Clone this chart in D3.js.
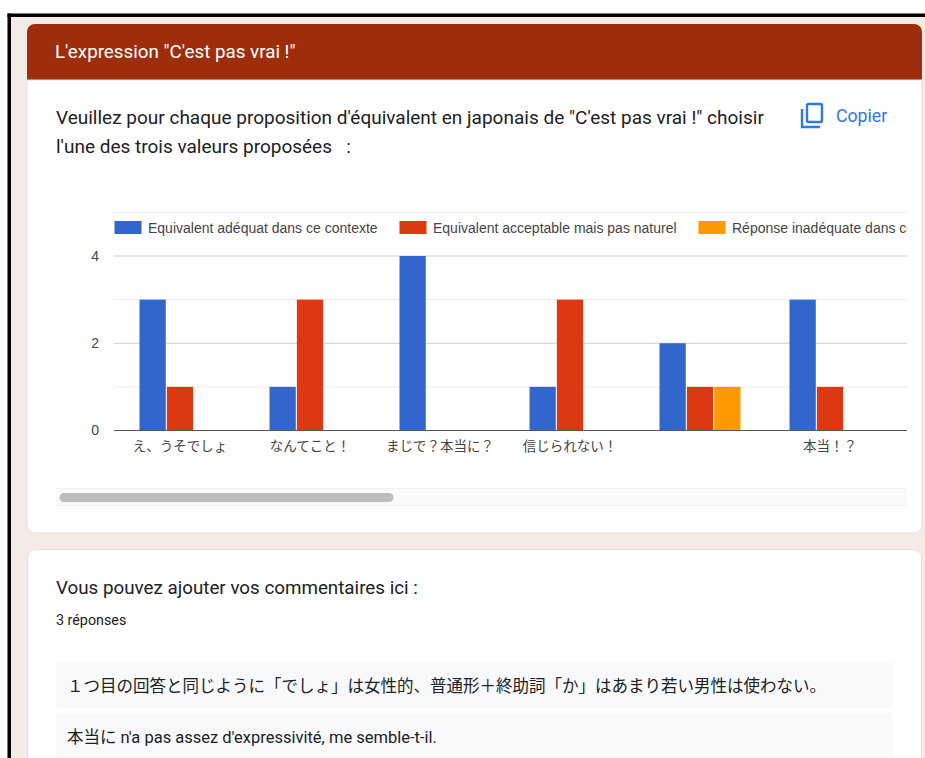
<!DOCTYPE html>
<html>
<head>
<meta charset="utf-8">
<script src="https://cdn.jsdelivr.net/npm/d3@7"></script>
<style>
  html, body { margin: 0; padding: 0; background: #fff; }
  svg { display: block; }
  text { font-family: Roboto, "Noto Sans CJK JP", sans-serif; fill: #202124; white-space: pre; }
  .chart text { font-family: "Liberation Sans", "Noto Sans CJK JP", sans-serif; fill: #444; }
  .axis path { display: none; }
  .axis line { stroke: none; }
</style>
</head>
<body>
<svg id="page" width="925" height="758"></svg>
<script>
var categories = ["え、うそでしょ", "なんてこと！", "まじで？本当に？", "信じられない！", "", "本当！？"];
var seriesNames = ["Equivalent adéquat dans ce contexte", "Equivalent acceptable mais pas naturel", "Réponse inadéquate dans ce contexte"];
var adequat = [3, 1, 4, 1, 2, 3];
var acceptable = [1, 3, 0, 3, 1, 1];
var inadequate = [0, 0, 0, 0, 1, 0];
var seriesColors = ["#3366cc", "#dc3912", "#ff9900"];
var yLabels = [0, 2, 4];
var yGrid = [1, 2, 3, 4];
var questionLines = ["Veuillez pour chaque proposition d'équivalent en japonais de \"C'est pas vrai !\" choisir", "l'une des trois valeurs proposées   :"];
var comments = ["１つ目の回答と同じように「でしょ」は女性的、普通形＋終助詞「か」はあまり若い男性は使わない。", "本当に n'a pas assez d'expressivité, me semble-t-il."];

var svg = d3.select("#page");

// page frame and cards
svg.append("rect").attr("x", 7.5).attr("y", 13.5).attr("width", 917.5).attr("height", 744.5).attr("fill", "#f4ebe7");
svg.append("rect").attr("x", 7.5).attr("y", 13.5).attr("width", 917.5).attr("height", 3.5).attr("fill", "#000");
svg.append("rect").attr("x", 7.5).attr("y", 13.5).attr("width", 3.5).attr("height", 744.5).attr("fill", "#000");

svg.append("path").attr("d", "M27,80V32a8,8 0 0 1 8,-8H914a8,8 0 0 1 8,8V80Z").attr("fill", "#9e2e0b");
svg.append("path").attr("d", "M27,80H922V525a8,8 0 0 1 -8,8H35a8,8 0 0 1 -8,-8Z")
    .attr("fill", "#fff").attr("stroke", "#e6e1de");
svg.append("rect").attr("x", 27.5).attr("y", 549.5).attr("width", 894).attr("height", 230).attr("rx", 8)
    .attr("fill", "#fff").attr("stroke", "#e6e1de");

svg.append("text").attr("x", 55).attr("y", 58).attr("font-size", 18.8).style("fill", "#fff")
    .text("L'expression \"C'est pas vrai !\"");

svg.selectAll(".question").data(questionLines).enter().append("text")
    .attr("class", "question")
    .attr("x", 56)
    .attr("y", function(d, i) { return 124 + i * 29; })
    .attr("font-size", 19)
    .text(function(d) { return d; });

// copy icon
svg.append("path").attr("d", "M802,109V127H820").attr("fill", "none").attr("stroke", "#2f78e4").attr("stroke-width", 2.4);
svg.append("rect").attr("x", 807).attr("y", 104).attr("width", 15).attr("height", 18).attr("rx", 1.5)
    .attr("fill", "none").attr("stroke", "#2f78e4").attr("stroke-width", 2.4);
svg.append("text").attr("x", 836).attr("y", 122).attr("font-size", 17.7).style("fill", "#2f78e4").text("Copier");

// chart
var chart = svg.append("g").attr("class", "chart");
var plotLeft = 114, plotRight = 907, y0 = 430.5, y4 = 256;

svg.append("clipPath").attr("id", "legendClip").append("rect")
    .attr("x", plotLeft).attr("y", 205).attr("width", plotRight - plotLeft).attr("height", 40);

var x0 = d3.scaleBand().domain(categories).range([115, 895]).paddingInner(0.377).paddingOuter(0.1885);
var x1 = d3.scaleBand().domain(d3.range(seriesNames.length)).range([0, x0.bandwidth()]).paddingInner(0.04);
var y = d3.scaleLinear().domain([0, 4]).range([y0, y4]);

chart.append("line").attr("x1", plotLeft).attr("x2", plotRight).attr("y1", 212.5).attr("y2", 212.5)
    .attr("stroke", "#eee");

chart.selectAll(".grid").data(yGrid).enter().append("line")
    .attr("class", "grid")
    .attr("x1", plotLeft).attr("x2", plotRight)
    .attr("y1", function(d) { return y(d); })
    .attr("y2", function(d) { return y(d); })
    .attr("stroke", function(d) { return d % 2 ? "#ebebeb" : "#ccc"; });

var seriesValues = [adequat, acceptable, inadequate];
var groups = chart.selectAll(".series").data(seriesValues).enter().append("g")
    .attr("class", "series")
    .attr("fill", function(d, i) { return seriesColors[i]; });

groups.each(function(values, s) {
  d3.select(this).selectAll("rect")
      .data(values.map(function(v, i) { return {cat: categories[i], v: v}; }))
    .enter().append("rect")
      .attr("x", function(d) { return x0(d.cat) + x1(s); })
      .attr("width", x1.bandwidth())
      .attr("y", function(d) { return y(d.v); })
      .attr("height", function(d) { return y(0) - y(d.v); });
});

chart.append("line").attr("x1", plotLeft).attr("x2", plotRight).attr("y1", y0).attr("y2", y0)
    .attr("stroke", "#555").attr("stroke-width", 1.2);

chart.append("g").attr("class", "axis")
    .attr("transform", "translate(" + (plotLeft - 3) + ",0)")
    .call(d3.axisLeft(y).tickValues(yLabels).tickFormat(d3.format("d")).tickSize(0).tickPadding(12))
    .selectAll("text").attr("font-size", 14);

chart.append("g").attr("class", "axis")
    .attr("transform", "translate(0," + y0 + ")")
    .call(d3.axisBottom(x0).tickSize(0).tickPadding(11))
    .selectAll("text").attr("font-size", 13.5).style("font-family", "'Noto Sans CJK JP', sans-serif");

// legend
var legendX = [114.5, 399.5, 698.5];
var legend = chart.append("g").attr("clip-path", "url(#legendClip)");
var items = legend.selectAll("g").data(seriesNames).enter().append("g")
    .attr("transform", function(d, i) { return "translate(" + legendX[i] + ",221)"; });
items.append("rect").attr("width", 27).attr("height", 13)
    .attr("fill", function(d, i) { return seriesColors[i]; });
items.append("text").attr("x", 33.5).attr("y", 12).attr("font-size", 14).text(function(d) { return d; });

// scrollbar
svg.append("rect").attr("x", 56).attr("y", 488.5).attr("width", 851).attr("height", 17)
    .attr("fill", "#fafafa");
svg.append("line").attr("x1", 56).attr("x2", 907).attr("y1", 488.5).attr("y2", 488.5).attr("stroke", "#f0f0f0");
svg.append("line").attr("x1", 56).attr("x2", 907).attr("y1", 505.5).attr("y2", 505.5).attr("stroke", "#f0f0f0");
svg.append("rect").attr("x", 59.5).attr("y", 493).attr("width", 334).attr("height", 9).attr("rx", 4.5)
    .attr("fill", "#bdbdbd");

// comments card
svg.append("text").attr("x", 56).attr("y", 594).attr("font-size", 18.8).text("Vous pouvez ajouter vos commentaires ici :");
svg.append("text").attr("x", 56).attr("y", 625).attr("font-size", 14.3).text("3 réponses");

var commentY = [662, 713];
svg.selectAll(".commentBox").data(comments).enter().append("rect")
    .attr("class", "commentBox")
    .attr("x", 56).attr("width", 837).attr("height", 46).attr("rx", 4)
    .attr("y", function(d, i) { return commentY[i]; })
    .attr("fill", "#f7f9fb");
svg.selectAll(".commentText").data(comments).enter().append("text")
    .attr("class", "commentText")
    .attr("x", 67)
    .attr("y", function(d, i) { return commentY[i] + 30; })
    .attr("font-size", 16.5)
    .text(function(d) { return d; });
</script>
</body>
</html>
